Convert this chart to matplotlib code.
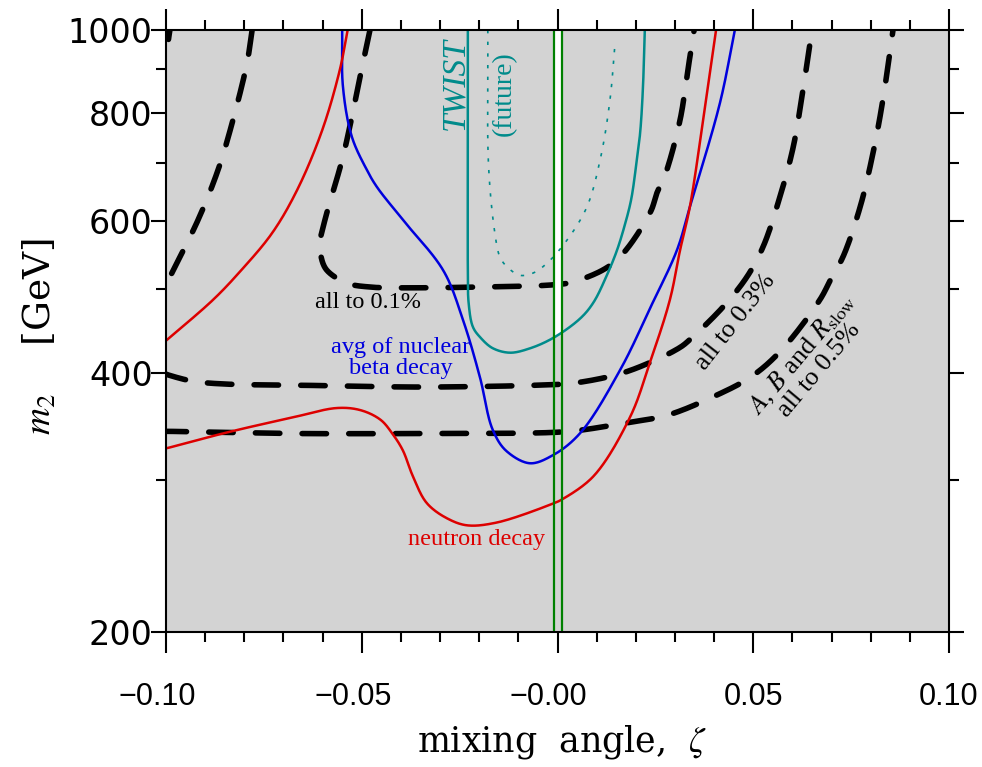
import numpy as np
import matplotlib
matplotlib.use('Agg')
import matplotlib.pyplot as plt
import matplotlib.transforms as mtransforms
from matplotlib.ticker import FixedLocator, NullFormatter, FixedFormatter

plt.rcParams['mathtext.fontset'] = 'stix'

# ---------------- data (zeta, m2 [GeV]) ----------------
twist_z = [-0.0229, -0.0229, -0.0229, -0.0227, -0.0216, -0.0198, -0.0165, -0.0121, -0.0070,
           -0.0011, 0.0057, 0.0091, 0.0126, 0.0152, 0.0172, 0.0188, 0.0201, 0.0211, 0.0218,
           0.0223]
twist_m = [1000, 700, 526, 482, 452, 440, 427, 422, 427,
           439, 462, 482, 519, 555, 594, 635, 697, 759, 852, 1000]

future_z = [-0.0178, -0.0176, -0.0160, -0.0147, -0.0129, -0.0096, -0.0063, -0.0027,
            0.0024, 0.0075, 0.0109, 0.0134, 0.0147]
future_m = [1000, 694, 581, 545, 531, 519, 522, 536, 570, 623, 707, 829, 966]

blue_z = [-0.0550, -0.0548, -0.0525, -0.0487, -0.0461, -0.0395, -0.0292, -0.0241,
          -0.0198, -0.0165, -0.0129, -0.0070, -0.0011, 0.0057, 0.0160, 0.0239, 0.0305,
          0.0338, 0.0415, 0.0453]
blue_m = [1000, 859, 751, 688, 657, 602, 526, 460, 395, 343, 324, 314, 321, 340, 403,
          478, 555, 623, 823, 1000]

red1_z = [-0.0536, -0.0556, -0.0601, -0.0665, -0.0729, -0.0808, -0.0880, -0.0997, -0.1015]
red1_m = [1000, 899, 765, 652, 581, 526, 486, 437, 430]

red2_z = [-0.1010, -0.0997, -0.0844, -0.0676, -0.0563, -0.0504, -0.0453, -0.0420, -0.0395,
          -0.0369, -0.0333, -0.0282, -0.0231, -0.0155, -0.0011, 0.0011, 0.0091, 0.0185,
          0.0236, 0.0287, 0.0313, 0.0338, 0.0372, 0.0405]
red2_m = [326, 327, 341, 355, 364, 362, 353, 339, 325, 303, 282, 271, 266, 268, 282, 285,
          303, 355, 411, 486, 555, 623, 786, 1000]

d01_z = [-0.0479, -0.0497, -0.0523, -0.0550, -0.0594, -0.0607, -0.0605, -0.0589, -0.0537,
         -0.0479, -0.0420, -0.0198, -0.0011, 0.0040, 0.0142, 0.0236, 0.0254, 0.0275,
         0.0313, 0.0333, 0.0349]
d01_m = [1000, 916, 801, 707, 602, 566, 548, 526, 508, 503, 502, 503, 506, 510, 536, 613,
         647, 679, 786, 899, 1000]

d03a_z = [-0.0780, -0.0793, -0.0829, -0.0867, -0.0918, -0.0977, -0.1000, -0.1010]
d03a_m = [1000, 916, 786, 688, 602, 531, 506, 495]

d03b_z = [-0.1010, -0.0997, -0.0931, -0.0844, -0.0676, -0.0351, -0.0045, 0.0040, 0.0152,
          0.0236, 0.0313, 0.0338, 0.0423, 0.0484, 0.0525, 0.0568, 0.0602, 0.0627, 0.0650]
d03b_m = [400, 398, 391, 388, 387, 385, 387, 389, 398, 411, 428, 437, 477, 517, 560, 640,
          731, 852, 1000]

d05a_z = [-0.0983, -0.0990, -0.1000, -0.1010]
d05a_m = [1040, 1000, 940, 915]

d05b_z = [-0.1010, -0.0997, -0.0844, -0.0676, -0.0351, -0.0011, 0.0057, 0.0178, 0.0280,
          0.0397, 0.0492, 0.0568, 0.0670, 0.0701, 0.0729, 0.0773, 0.0806, 0.0831, 0.0857]
d05b_m = [342, 342, 341, 340, 340, 341, 343, 350, 357, 375, 395, 423, 486, 517, 545, 623,
          720, 829, 1000]

green_z = [-0.0009, 0.0011]

x_ticks = [-0.10, -0.05, 0.0, 0.05, 0.10]
x_labels = ['\u22120.10', '\u22120.05', '\u22120.00', '0.05', '0.10']
x_minor = [-0.09, -0.08, -0.07, -0.06, -0.04, -0.03, -0.02, -0.01,
           0.01, 0.02, 0.03, 0.04, 0.06, 0.07, 0.08, 0.09]
y_ticks = [200, 400, 600, 800, 1000]
y_labels = ['200', '400', '600', '800', '1000']
y_minor = [300, 500, 700, 900]


# smooth rendering of a read-off curve (centripetal Catmull-Rom in axes space)
def smooth(z, m, n=24):
    u = (np.asarray(z, float) + 0.1) / 0.2
    v = np.log10(np.asarray(m, float) / 200.0) / np.log10(5.0)
    P = np.column_stack([u, v])
    P = np.vstack([2 * P[0] - P[1], P, 2 * P[-1] - P[-2]])
    out = []
    for i in range(1, len(P) - 2):
        p0, p1, p2, p3 = P[i - 1], P[i], P[i + 1], P[i + 2]
        t0 = 0.0
        t1 = t0 + np.linalg.norm(p1 - p0) ** 0.5 + 1e-9
        t2 = t1 + np.linalg.norm(p2 - p1) ** 0.5 + 1e-9
        t3 = t2 + np.linalg.norm(p3 - p2) ** 0.5 + 1e-9
        t = np.linspace(t1, t2, n, endpoint=(i == len(P) - 3))[:, None]
        a1 = (t1 - t) / (t1 - t0) * p0 + (t - t0) / (t1 - t0) * p1
        a2 = (t2 - t) / (t2 - t1) * p1 + (t - t1) / (t2 - t1) * p2
        a3 = (t3 - t) / (t3 - t2) * p2 + (t - t2) / (t3 - t2) * p3
        b1 = (t2 - t) / (t2 - t0) * a1 + (t - t0) / (t2 - t0) * a2
        b2 = (t3 - t) / (t3 - t1) * a2 + (t - t1) / (t3 - t1) * a3
        out.append((t2 - t) / (t2 - t1) * b1 + (t - t1) / (t2 - t1) * b2)
    C = np.vstack(out)
    return C[:, 0] * 0.2 - 0.1, 200.0 * 5.0 ** C[:, 1]


# ---------------- figure ----------------
W, H = 982, 767
fig = plt.figure(figsize=(W / 100, H / 100), dpi=100)
ax = fig.add_axes([166 / W, 1 - 632 / H, 783 / W, 602 / H])
ax.set_facecolor('#d3d3d3')
ax.set_yscale('log')
ax.set_xlim(-0.1, 0.1)
ax.set_ylim(200, 1000)

dash_kw = dict(color='black', lw=4.0, dashes=(4.4, 4.0), dash_capstyle='round', zorder=2)
for z, m in [(d01_z, d01_m), (d03a_z, d03a_m), (d03b_z, d03b_m), (d05a_z, d05a_m), (d05b_z, d05b_m)]:
    ax.plot(*smooth(z, m), **dash_kw)

# allowed region between the green lines above the TWIST curve
tzs, tms = smooth(twist_z, twist_m)
sel = (tzs > -0.02) & (np.arange(len(tzs)) > np.argmin(tms) - 40)
zz = np.linspace(green_z[0], green_z[1], 20)
order = np.argsort(tzs[sel])
ax.fill_between(zz, np.interp(zz, tzs[sel][order], tms[sel][order]), 1000,
                color='white', lw=0, zorder=3)

teal = '#008b8b'
ax.plot(*smooth(future_z, future_m), color=teal, lw=1.2, dashes=(2, 5), zorder=4)
ax.plot(tzs, tms, color=teal, lw=1.8, zorder=4)
ax.plot(*smooth(blue_z, blue_m), color='#0000dd', lw=1.8, zorder=4)
ax.plot(*smooth(red1_z, red1_m), color='#dd0000', lw=1.8, zorder=4)
ax.plot(*smooth(red2_z, red2_m), color='#dd0000', lw=1.8, zorder=4)
for gz in green_z:
    ax.axvline(gz, color='#008000', lw=1.6, zorder=5)

# ---------------- annotations ----------------
serif = 'Liberation Serif'
ax.text(-0.0484, 482, 'all to 0.1%', fontsize=17.5, family=serif, ha='center', va='center', zorder=6)
ax.text(-0.0400, 416, 'avg of nuclear\nbeta decay', fontsize=17.5, family=serif, color='#0000dd',
        ha='center', va='center', linespacing=1.05, zorder=6)
ax.text(-0.0206, 256, 'neutron decay', fontsize=17.5, family=serif, color='#dd0000',
        ha='center', va='center', zorder=6)
ax.text(-0.0262, 866, 'TWIST', fontsize=24, family=serif, style='italic', color=teal,
        rotation=90, ha='center', va='center', zorder=6)
ax.text(-0.0137, 843, '(future)', fontsize=20, family=serif, color=teal,
        rotation=90, ha='center', va='center', zorder=6)
ax.text(0.0456, 458, 'all to 0.3%', fontsize=19, family=serif, rotation=52,
        ha='center', va='center', rotation_mode='anchor', zorder=6)
ax.text(0.0645, 412, '$A$, $B$ and $R_{\\mathrm{slow}}$\nall to 0.5%', fontsize=19, family=serif,
        rotation=50, ha='center', va='center', rotation_mode='anchor', linespacing=1.0, zorder=6)

# ---------------- axes styling ----------------
for s in ax.spines.values():
    s.set_linewidth(1.5)
    s.set_zorder(7)

ax.xaxis.set_major_locator(FixedLocator(x_ticks))
ax.xaxis.set_major_formatter(FixedFormatter(x_labels))
ax.xaxis.set_minor_locator(FixedLocator(x_minor))
ax.xaxis.set_minor_formatter(NullFormatter())
ax.yaxis.set_major_locator(FixedLocator(y_ticks))
ax.yaxis.set_major_formatter(FixedFormatter(y_labels))
ax.yaxis.set_minor_locator(FixedLocator(y_minor))
ax.yaxis.set_minor_formatter(NullFormatter())

ax.tick_params(axis='both', which='both', direction='out', top=True, right=True, width=1.5)
ax.tick_params(axis='x', which='major', length=15, pad=21)
ax.tick_params(axis='x', which='minor', length=7)
ax.tick_params(axis='y', which='major', length=11, pad=-1.5)
ax.tick_params(axis='y', which='minor', length=7)

shift = mtransforms.ScaledTranslation(-9 / 100, 0, fig.dpi_scale_trans)
for lab, txt in zip(ax.get_xticklabels(), x_labels):
    lab.set_family('Liberation Sans')
    lab.set_fontsize(22)
    if txt.startswith('\u2212'):
        lab.set_transform(lab.get_transform() + shift)
for lab in ax.get_yticklabels():
    lab.set_family('DejaVu Sans')
    lab.set_fontsize(24)

fig.text(562 / W, 1 - 742 / H, 'mixing  angle,  $\\zeta$', fontsize=25, family='DejaVu Serif',
         ha='center', va='center')
fig.text(40 / W, 1 - 337 / H, '$m_2$    [GeV]', fontsize=27, family='DejaVu Serif',
         rotation=90, ha='center', va='center')

fig.savefig('out.png', dpi=100)
